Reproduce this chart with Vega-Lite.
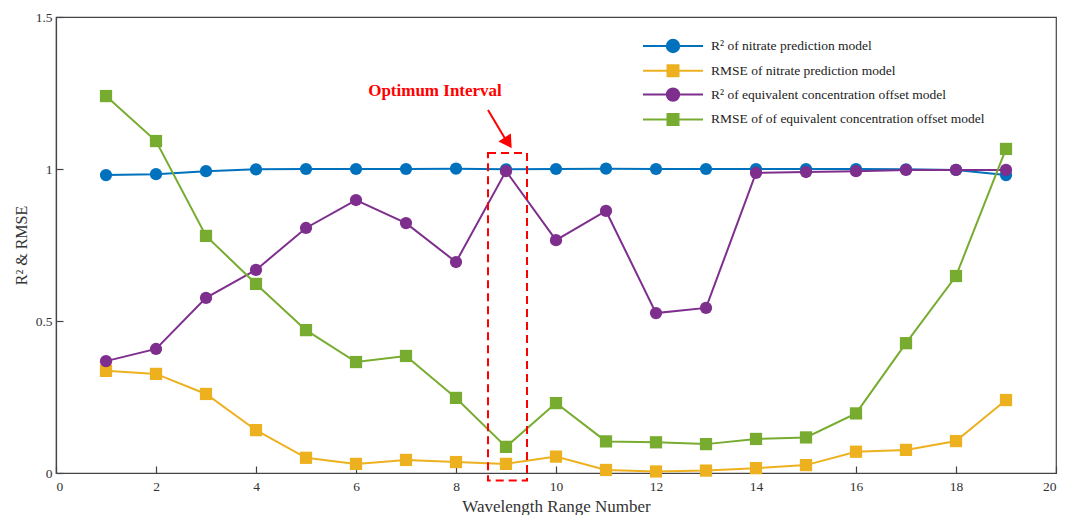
{
  "$schema": "https://vega.github.io/schema/vega-lite/v6.json",
  "width": 1000,
  "height": 456,
  "autosize": {"type": "none"},
  "padding": {"left": 56, "top": 17, "right": 11, "bottom": 42},
  "background": "white",
  "config": {
    "font": "Liberation Serif",
    "view": {"stroke": "#444", "strokeWidth": 1.2},
    "axis": {
      "grid": false,
      "ticks": true,
      "domainColor": "#444",
      "domainWidth": 1.2,
      "tickColor": "#444",
      "tickWidth": 1.2,
      "tickSize": -7,
      "labelFont": "Liberation Serif",
      "labelFontSize": 13.5,
      "labelColor": "#333",
      "titleFont": "Liberation Serif",
      "titleFontWeight": "normal",
      "titleColor": "#333"
    }
  },
  "datasets": {
    "series": [
      {"x": 1, "y": 0.98, "s": "R² of nitrate prediction model"},
      {"x": 2, "y": 0.983, "s": "R² of nitrate prediction model"},
      {"x": 3, "y": 0.993, "s": "R² of nitrate prediction model"},
      {"x": 4, "y": 0.999, "s": "R² of nitrate prediction model"},
      {"x": 5, "y": 1.0, "s": "R² of nitrate prediction model"},
      {"x": 6, "y": 1.0, "s": "R² of nitrate prediction model"},
      {"x": 7, "y": 1.0, "s": "R² of nitrate prediction model"},
      {"x": 8, "y": 1.001, "s": "R² of nitrate prediction model"},
      {"x": 9, "y": 0.999, "s": "R² of nitrate prediction model"},
      {"x": 10, "y": 1.0, "s": "R² of nitrate prediction model"},
      {"x": 11, "y": 1.001, "s": "R² of nitrate prediction model"},
      {"x": 12, "y": 1.0, "s": "R² of nitrate prediction model"},
      {"x": 13, "y": 1.0, "s": "R² of nitrate prediction model"},
      {"x": 14, "y": 1.0, "s": "R² of nitrate prediction model"},
      {"x": 15, "y": 1.0, "s": "R² of nitrate prediction model"},
      {"x": 16, "y": 1.0, "s": "R² of nitrate prediction model"},
      {"x": 17, "y": 0.999, "s": "R² of nitrate prediction model"},
      {"x": 18, "y": 0.997, "s": "R² of nitrate prediction model"},
      {"x": 19, "y": 0.98, "s": "R² of nitrate prediction model"},
      {"x": 1, "y": 0.336, "s": "RMSE of nitrate prediction model"},
      {"x": 2, "y": 0.326, "s": "RMSE of nitrate prediction model"},
      {"x": 3, "y": 0.26, "s": "RMSE of nitrate prediction model"},
      {"x": 4, "y": 0.141, "s": "RMSE of nitrate prediction model"},
      {"x": 5, "y": 0.05, "s": "RMSE of nitrate prediction model"},
      {"x": 6, "y": 0.03, "s": "RMSE of nitrate prediction model"},
      {"x": 7, "y": 0.043, "s": "RMSE of nitrate prediction model"},
      {"x": 8, "y": 0.036, "s": "RMSE of nitrate prediction model"},
      {"x": 9, "y": 0.03, "s": "RMSE of nitrate prediction model"},
      {"x": 10, "y": 0.054, "s": "RMSE of nitrate prediction model"},
      {"x": 11, "y": 0.01, "s": "RMSE of nitrate prediction model"},
      {"x": 12, "y": 0.005, "s": "RMSE of nitrate prediction model"},
      {"x": 13, "y": 0.008, "s": "RMSE of nitrate prediction model"},
      {"x": 14, "y": 0.016, "s": "RMSE of nitrate prediction model"},
      {"x": 15, "y": 0.026, "s": "RMSE of nitrate prediction model"},
      {"x": 16, "y": 0.07, "s": "RMSE of nitrate prediction model"},
      {"x": 17, "y": 0.076, "s": "RMSE of nitrate prediction model"},
      {"x": 18, "y": 0.105, "s": "RMSE of nitrate prediction model"},
      {"x": 19, "y": 0.24, "s": "RMSE of nitrate prediction model"},
      {"x": 1, "y": 0.368, "s": "R² of equivalent concentration offset model"},
      {"x": 2, "y": 0.408, "s": "R² of equivalent concentration offset model"},
      {"x": 3, "y": 0.576, "s": "R² of equivalent concentration offset model"},
      {"x": 4, "y": 0.668, "s": "R² of equivalent concentration offset model"},
      {"x": 5, "y": 0.806, "s": "R² of equivalent concentration offset model"},
      {"x": 6, "y": 0.898, "s": "R² of equivalent concentration offset model"},
      {"x": 7, "y": 0.822, "s": "R² of equivalent concentration offset model"},
      {"x": 8, "y": 0.694, "s": "R² of equivalent concentration offset model"},
      {"x": 9, "y": 0.993, "s": "R² of equivalent concentration offset model"},
      {"x": 10, "y": 0.766, "s": "R² of equivalent concentration offset model"},
      {"x": 11, "y": 0.862, "s": "R² of equivalent concentration offset model"},
      {"x": 12, "y": 0.526, "s": "R² of equivalent concentration offset model"},
      {"x": 13, "y": 0.543, "s": "R² of equivalent concentration offset model"},
      {"x": 14, "y": 0.987, "s": "R² of equivalent concentration offset model"},
      {"x": 15, "y": 0.99, "s": "R² of equivalent concentration offset model"},
      {"x": 16, "y": 0.993, "s": "R² of equivalent concentration offset model"},
      {"x": 17, "y": 0.997, "s": "R² of equivalent concentration offset model"},
      {"x": 18, "y": 0.997, "s": "R² of equivalent concentration offset model"},
      {"x": 19, "y": 0.997, "s": "R² of equivalent concentration offset model"},
      {"x": 1, "y": 1.24, "s": "RMSE of of equivalent concentration offset model"},
      {"x": 2, "y": 1.092, "s": "RMSE of of equivalent concentration offset model"},
      {"x": 3, "y": 0.78, "s": "RMSE of of equivalent concentration offset model"},
      {"x": 4, "y": 0.622, "s": "RMSE of of equivalent concentration offset model"},
      {"x": 5, "y": 0.47, "s": "RMSE of of equivalent concentration offset model"},
      {"x": 6, "y": 0.365, "s": "RMSE of of equivalent concentration offset model"},
      {"x": 7, "y": 0.385, "s": "RMSE of of equivalent concentration offset model"},
      {"x": 8, "y": 0.247, "s": "RMSE of of equivalent concentration offset model"},
      {"x": 9, "y": 0.086, "s": "RMSE of of equivalent concentration offset model"},
      {"x": 10, "y": 0.23, "s": "RMSE of of equivalent concentration offset model"},
      {"x": 11, "y": 0.104, "s": "RMSE of of equivalent concentration offset model"},
      {"x": 12, "y": 0.101, "s": "RMSE of of equivalent concentration offset model"},
      {"x": 13, "y": 0.095, "s": "RMSE of of equivalent concentration offset model"},
      {"x": 14, "y": 0.112, "s": "RMSE of of equivalent concentration offset model"},
      {"x": 15, "y": 0.117, "s": "RMSE of of equivalent concentration offset model"},
      {"x": 16, "y": 0.196, "s": "RMSE of of equivalent concentration offset model"},
      {"x": 17, "y": 0.427, "s": "RMSE of of equivalent concentration offset model"},
      {"x": 18, "y": 0.648, "s": "RMSE of of equivalent concentration offset model"},
      {"x": 19, "y": 1.066, "s": "RMSE of of equivalent concentration offset model"}
    ],
    "box": [{"x": 8.64, "x2": 9.42, "y": -0.025, "y2": 1.053}],
    "arrow": [{"x": 8.64, "y": 1.194, "x2": 8.98, "y2": 1.1}],
    "head": [{"x": 9.02, "y": 1.092}],
    "label": [{"x": 7.58, "y": 1.257, "t": "Optimum Interval"}]
  },
  "layer": [
    {
      "data": {"name": "series"},
      "mark": {"type": "line", "strokeWidth": 2},
      "encoding": {
        "x": {"field": "x", "type": "quantitative", "title": "Wavelength Range Number",
              "scale": {"domain": [0, 20], "nice": false},
              "axis": {"values": [0, 2, 4, 6, 8, 10, 12, 14, 16, 18, 20], "labelPadding": 13, "titlePadding": 6, "titleFontSize": 17}},
        "y": {"field": "y", "type": "quantitative", "title": "R² & RMSE",
              "scale": {"domain": [0, 1.5], "nice": false},
              "axis": {"values": [0, 0.5, 1, 1.5], "format": "~g", "labelPadding": 11, "titlePadding": 6, "titleFontSize": 16}},
        "color": {"field": "s", "type": "nominal",
                  "scale": {"domain": ["R² of nitrate prediction model", "RMSE of nitrate prediction model", "R² of equivalent concentration offset model", "RMSE of of equivalent concentration offset model"],
                            "range": ["#0072BD", "#EDB120", "#7E2F8E", "#77AC30"]},
                  "legend": {"title": null, "orient": "none", "legendX": 606, "legendY": 18, "padding": 0,
                             "symbolSize": 400, "symbolOpacity": 1, "symbolStrokeWidth": 2,
                             "labelOffset": 27, "rowPadding": 2.8, "labelFont": "Liberation Serif",
                             "labelFontSize": 13.5, "labelColor": "#222", "labelLimit": 0,
                             "encode": {"symbols": {"update": {
                               "shape": {"signal": "indexof(datum.value, 'R²') === 0 ? 'M-3,0H-0.62M0.62,0H3M-0.62,0A0.62,0.62,0,1,1,0.62,0A0.62,0.62,0,1,1,-0.62,0Z' : 'M-3,0H-0.55M0.55,0H3M-0.55,-0.55H0.55V0.55H-0.55Z'"},
                               "fill": {"scale": "color", "field": "value"},
                               "stroke": {"scale": "color", "field": "value"},
                               "strokeWidth": {"value": 2},
                               "opacity": {"value": 1},
                               "size": {"value": 400}
                             }}}}}
      }
    },
    {
      "data": {"name": "series"},
      "mark": {"type": "point", "filled": true, "opacity": 1, "size": 150},
      "encoding": {
        "x": {"field": "x", "type": "quantitative"},
        "y": {"field": "y", "type": "quantitative"},
        "color": {"field": "s", "type": "nominal"},
        "shape": {"condition": {"test": "indexof(datum.s, 'R²') === 0", "value": "circle"}, "value": "square"}
      }
    },
    {
      "data": {"name": "box"},
      "mark": {"type": "rect", "fill": null, "stroke": "#FF0000", "strokeWidth": 2, "strokeDash": [8, 5], "clip": false},
      "encoding": {
        "x": {"field": "x", "type": "quantitative"},
        "x2": {"field": "x2"},
        "y": {"field": "y", "type": "quantitative"},
        "y2": {"field": "y2"}
      }
    },
    {
      "data": {"name": "arrow"},
      "mark": {"type": "rule", "stroke": "#FF0000", "strokeWidth": 2},
      "encoding": {
        "x": {"field": "x", "type": "quantitative"},
        "x2": {"field": "x2"},
        "y": {"field": "y", "type": "quantitative"},
        "y2": {"field": "y2"}
      }
    },
    {
      "data": {"name": "head"},
      "mark": {"type": "point", "shape": "triangle", "filled": true, "color": "#FF0000", "opacity": 1, "size": 220, "angle": 147},
      "encoding": {
        "x": {"field": "x", "type": "quantitative"},
        "y": {"field": "y", "type": "quantitative"}
      }
    },
    {
      "data": {"name": "label"},
      "mark": {"type": "text", "color": "#FF0000", "font": "Liberation Serif", "fontSize": 17, "fontWeight": "bold"},
      "encoding": {
        "x": {"field": "x", "type": "quantitative"},
        "y": {"field": "y", "type": "quantitative"},
        "text": {"field": "t"}
      }
    }
  ]
}
